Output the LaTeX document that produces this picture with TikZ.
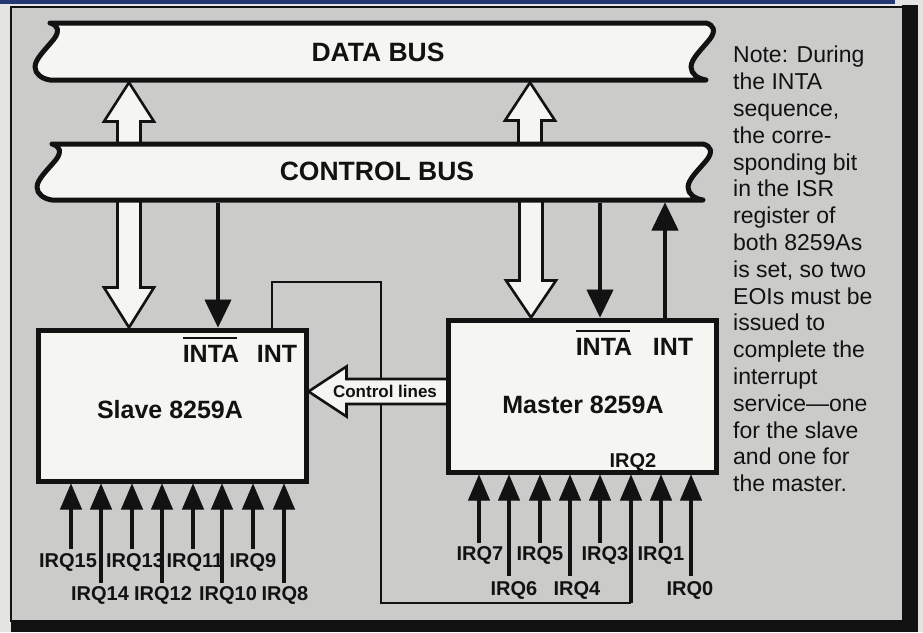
\documentclass[tikz,border=0pt]{standalone}
\usepackage{fontspec}
\setmainfont{Liberation Sans}
\usetikzlibrary{arrows.meta,calc}

\definecolor{panel}{RGB}{203,203,201}
\definecolor{paper}{RGB}{245,245,242}
\definecolor{ink}{RGB}{18,18,18}
\definecolor{bandblue}{RGB}{35,55,115}
\definecolor{margin}{RGB}{228,228,226}

% bus ribbon with curled ends: left x, right x, top y, bottom y
\newcommand\busoutline[4]{%
  \filldraw[bus] (#1,#3) -- (#2,#3)
    .. controls ({#2+8},{#3+0.035*(#4-#3)}) and ({#2+10},{#3+0.14*(#4-#3)}) .. ({#2+4},{#3+0.28*(#4-#3)})
    .. controls ({#2-4},{#3+0.456*(#4-#3)}) and ({#2-15},{#3+0.63*(#4-#3)}) .. ({#2-15},{#3+0.77*(#4-#3)})
    .. controls ({#2-15},{#3+0.895*(#4-#3)}) and ({#2-8},{#3+0.98*(#4-#3)}) .. (#2,#4)
    -- (#1,#4)
    .. controls ({#1-8},{#3+0.98*(#4-#3)}) and ({#1-15},{#3+0.895*(#4-#3)}) .. ({#1-15},{#3+0.77*(#4-#3)})
    .. controls ({#1-15},{#3+0.63*(#4-#3)}) and ({#1-4},{#3+0.456*(#4-#3)}) .. ({#1+4},{#3+0.28*(#4-#3)})
    .. controls ({#1+10},{#3+0.14*(#4-#3)}) and ({#1+8},{#3+0.035*(#4-#3)}) .. (#1,#3) -- cycle;}

% outlined block arrow: tail, tip, head length, head half-width, shaft half-width
\newcommand\fatarrow[5]{%
  \coordinate (fahead) at ($(#2)!#3!(#1)$);
  \filldraw[hollow] ($(#1)!#5!90:(#2)$) -- ($(fahead)!#5!90:(#2)$) -- ($(fahead)!#4!90:(#2)$)
    -- (#2) -- ($(fahead)!#4!-90:(#2)$) -- ($(fahead)!#5!-90:(#2)$) -- ($(#1)!#5!-90:(#2)$) -- cycle;}

\tikzset{
  bus/.style={fill=paper, draw=ink, line width=5pt, line join=round},
  chip/.style={rectangle, fill=paper, draw=ink, line width=5pt, inner sep=0pt},
  hollow/.style={fill=paper, draw=ink, line width=2.6pt, line join=miter},
  sig/.style={draw=ink, line width=4.5pt, -{Triangle[length=28pt,width=27pt,line width=0.6pt]}},
  irq/.style={draw=ink, line width=3.4pt, -{Triangle[length=26pt,width=22pt,line width=0.6pt]}},
  wire/.style={draw=ink, line width=1.8pt},
  buslab/.style={font=\fontsize{26.5}{30}\selectfont\bfseries, text=ink, inner sep=0pt},
  chiplab/.style={font=\fontsize{25}{30}\selectfont\bfseries, text=ink, inner sep=0pt, anchor=base},
  irqlab/.style={font=\fontsize{20}{24}\selectfont\bfseries, text=ink, inner sep=0pt, anchor=base},
  ctrllab/.style={font=\fontsize{17}{20}\selectfont\bfseries, text=ink, inner sep=0pt},
  notetext/.style={font=\fontsize{23}{26.8}\selectfont, text=ink, inner sep=0pt, align=left, anchor=north west},
  barline/.style={draw=ink, line width=2.2pt}
}

\begin{document}
\begin{tikzpicture}[x=1pt,y=-1pt]
\useasboundingbox (0,0) rectangle (923,632);

% page, panel and its shadow
\fill[margin] (0,0) rectangle (923,632);
\fill[bandblue] (0,0) rectangle (895,4);
\filldraw[fill=panel, draw=ink, line width=1.2pt] (11,7) rectangle (903,621);
\fill[ink] (902,5) rectangle (918,632);
\fill[ink] (11,620) rectangle (918,632);

% the two 8259A blocks (placed first so connectors can refer to them)
\path (172,405.5) node[chip, minimum width=268pt, minimum height=151pt, draw=none, fill=none] (slave) {};
\path (582,396) node[chip, minimum width=268pt, minimum height=152pt, draw=none, fill=none] (master) {};

% cascade wire: slave INT to master IRQ2
\coordinate (cas1) at (272,282);
\coordinate (cas2) at (381,282);
\coordinate (cas3) at (381,603);
\coordinate (cas4) at (631,603);
\draw[wire] (slave.north -| cas1) -- (cas1) -- (cas2) -- (cas3) -- (cas4);

% control lines from master to slave
\coordinate (ctl-tail) at (456,391.5);
\coordinate (ctl-tip) at (slave.east |- ctl-tail);
\fatarrow{ctl-tail}{ctl-tip}{38pt}{25pt}{12.5pt}

% data paths through the control bus
\coordinate (sd-up-tail) at (129,152);
\coordinate (sd-up-tip) at (129,82.5);
\coordinate (sd-dn-tail) at (129,192);
\coordinate (sd-dn-tip) at (sd-dn-tail |- slave.north);
\coordinate (md-up-tail) at (530,152);
\coordinate (md-up-tip) at (530,82.5);
\coordinate (md-dn-tail) at (531,192);
\coordinate (md-dn-tip) at (md-dn-tail |- master.north);
\fatarrow{sd-up-tail}{sd-up-tip}{39pt}{25pt}{11.5pt}
\fatarrow{sd-dn-tail}{sd-dn-tip}{40pt}{25pt}{11.5pt}
\fatarrow{md-up-tail}{md-up-tip}{38pt}{25pt}{11.5pt}
\fatarrow{md-dn-tail}{md-dn-tip}{37pt}{25pt}{11.5pt}

% blocks
\node[chip, minimum width=268pt, minimum height=151pt] at (slave.center) {};
\node[chip, minimum width=268pt, minimum height=152pt] at (master.center) {};

% buses
\busoutline{50}{706}{23}{80}
\busoutline{52}{703}{144}{200}
\node[buslab] (databus) at (378,52) {DATA BUS};
\node[buslab] (ctrlbus) at (377,171) {CONTROL BUS};

% INTA / INT signals
\coordinate (s-inta) at (218,202.5);
\coordinate (m-inta) at (600,202.5);
\coordinate (m-int) at (665,202.5);
\draw[sig] (s-inta) -- (s-inta |- slave.north);
\draw[sig] (m-inta) -- (m-inta |- master.north);
\draw[sig] (m-int |- master.north) -- (m-int);

% slave interrupt requests
\foreach \n/\x/\y in {15/71/549, 14/101/583, 13/132/549, 12/162/583,
                      11/193/549, 10/222/583, 9/253/549, 8/284/583} {
  \coordinate (sirq\n) at (\x,\y);
  \draw[irq] (sirq\n) -- (sirq\n |- slave.south);
}
\foreach \n/\x/\y in {15/68/567, 13/135/567, 11/195/567, 9/253/567,
                      14/100/600, 12/163/600, 10/228/600, 8/285/600} {
  \node[irqlab] (lirq\n) at (\x,\y) {IRQ\n};
}

% master interrupt requests
\foreach \n/\x/\y in {7/479/543, 6/509/576, 5/540/543, 4/570/576,
                      3/600/543, 1/661/543, 0/691/576} {
  \coordinate (mirq\n) at (\x,\y);
  \draw[irq] (mirq\n) -- (mirq\n |- master.south);
}
\draw[irq] (cas4) -- (cas4 |- master.south);
\foreach \n/\x/\y in {7/480/560, 5/540/560, 3/605/560, 1/661/560,
                      6/514/595, 4/577/595, 0/690/595} {
  \node[irqlab] (lmirq\n) at (\x,\y) {IRQ\n};
}

% block labels
\node[chiplab] (s-inta-lab) at (211,362) {INTA};
\draw[barline] ([yshift=7pt]s-inta-lab.north west) -- ([yshift=7pt,xshift=-2pt]s-inta-lab.north east);
\node[chiplab] (s-int-lab) at (277,362) {INT};
\node[chiplab] (s-name) at (170,418) {Slave 8259A};

\node[chiplab] (m-inta-lab) at (604,355) {INTA};
\draw[barline] ([yshift=7pt]m-inta-lab.north west) -- ([yshift=7pt,xshift=-2pt]m-inta-lab.north east);
\node[chiplab] (m-int-lab) at (673,355) {INT};
\node[chiplab] (m-name) at (583,413) {Master 8259A};
\node[irqlab] (m-irq2) at (633,467) {IRQ2};

\node[ctrllab] (ctl-lab) at (385,391) {Control lines};

% side note
\node[notetext] (note) at (733,46) {Note: During\\the INTA\\sequence,\\the corre-\\sponding bit\\in the ISR\\register of\\both 8259As\\is set, so two\\EOIs must be\\issued to\\complete the\\interrupt\\service—one\\for the slave\\and one for\\the master.};
\end{tikzpicture}
\end{document}
